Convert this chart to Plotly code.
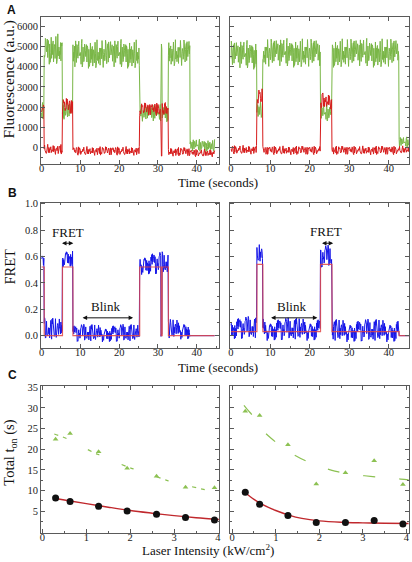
import numpy as np
import plotly.graph_objects as go
from plotly.subplots import make_subplots

# ---------------- data ----------------
# hand-typed noise texture (unitless, -1..1)
JITTER = [0.12,-0.45,0.78,-0.2,0.33,-0.91,0.05,0.6,-0.38,0.22,-0.7,0.48,-0.05,0.85,-0.55,0.1,-0.28,0.67,-0.82,0.3,
          -0.12,0.52,-0.64,0.18,0.95,-0.33,0.07,-0.58,0.41,-0.15,0.73,-0.88,0.26,-0.47,0.61,0.02,-0.36,0.8,-0.69,0.14,
          -0.25,0.57,-0.97,0.38,-0.08,0.44,-0.61,0.9,-0.18,0.29,-0.76,0.5,-0.42,0.11,0.68,-0.3,-0.85,0.35,0.2,-0.53,
          0.76,-0.1,0.47,-0.72,0.16,0.59,-0.4,0.04,-0.66,0.83,-0.22,0.37,-0.5,0.64,-0.93,0.24,-0.14,0.71,-0.34,0.09,
          0.55,-0.79,0.42,-0.03,-0.6,0.87,-0.27,0.19,-0.45,0.66,-0.11,0.31,-0.74,0.5,-0.19,0.92,-0.56,0.08,-0.37,0.62,-0.87]

# left molecule: segment boundaries (s) and per-segment levels / noise half-ranges
L_BOUNDS = [0, 0.7, 5.4, 8.1, 25.3, 30.8, 31.1, 32.7, 38.3, 44.6]
L_GREEN = [1800, 4900, 1800, 4650, 1700, 5000, 1700, 4700, 100]
L_GREEN_AMP = [450, 800, 450, 750, 450, 300, 450, 700, 320]
L_RED = [2000, -100, 2050, -180, 1900, -450, 1900, -220, -280]
L_RED_AMP = [320, 260, 420, 230, 340, 150, 340, 230, 200]
L_FRET = [0.55, 0.05, 0.6, 0.02, 0.55, 0.0, 0.55, 0.05, 0.0]
L_FRET_AMP = [0.06, 0.09, 0.08, 0.07, 0.09, 0.02, 0.09, 0.08, 0.0]
L_IDEAL = [0.52, 0.0, 0.52, 0.0, 0.52, 0.0, 0.52, 0.0, 0.0]

# right molecule
R_BOUNDS = [0, 6.6, 8.1, 22.7, 25.6, 42.6, 45.2]
R_GREEN = [4600, 1900, 4700, 1700, 4700, 250]
R_GREEN_AMP = [750, 450, 750, 450, 750, 280]
R_RED = [-120, 2500, -150, 2300, -150, -120]
R_RED_AMP = [230, 450, 230, 420, 230, 200]
R_FRET = [0.06, 0.62, 0.05, 0.6, 0.04, 0.0]
R_FRET_AMP = [0.09, 0.08, 0.09, 0.09, 0.09, 0.0]
R_IDEAL = [0.03, 0.54, 0.03, 0.54, 0.03, 0.0]

# panel C
INTENSITY = [0.3, 0.63, 1.28, 1.93, 2.6, 3.26, 3.92]
L_TON = [8.2, 7.4, 6.2, 5.1, 4.3, 3.5, 2.9]
L_GREEN_TON = [22.4, 23.8, 19.4, 15.4, 13.5, 10.8, 10.7]
R_TON = [9.6, 6.7, 4.0, 2.3, 2.3, 2.8, 1.95]
R_GREEN_TON = [29.2, 28.2, 21.1, 11.6, 14.3, 17.2, 11.5]
L_FIT_X = [0.3, 0.6, 1.0, 1.5, 2.0, 2.5, 3.0, 3.5, 4.05]
L_FIT_Y = [8.1, 7.55, 6.85, 6.0, 5.2, 4.55, 3.95, 3.45, 3.0]
R_FIT_X = [0.3, 0.5, 0.7, 1.0, 1.3, 1.6, 2.0, 2.5, 3.0, 3.5, 4.05]
R_FIT_Y = [9.5, 7.9, 6.6, 5.2, 4.1, 3.3, 2.7, 2.35, 2.2, 2.1, 2.05]
L_GFIT_X = [0.27, 0.55, 1.15, 1.35, 1.95, 2.15, 2.75, 2.95, 3.55, 3.8, 4.05]
L_GFIT_Y = [23.7, 22.6, 19.3, 18.4, 15.7, 15.0, 12.8, 12.1, 10.6, 10.0, 9.6]
R_GFIT_X = [0.27, 0.35, 0.54, 0.65, 0.9, 1.12, 1.4, 1.9, 2.2, 2.58, 3.04, 3.53, 3.87, 4.05]
R_GFIT_Y = [30.6, 29.6, 27.2, 25.2, 22.6, 20.8, 18.8, 16.2, 15.2, 14.2, 13.6, 13.1, 12.8, 12.6]

DT = 0.1


def build(bounds, levels, amps, stride, offset):
    t = np.arange(0, bounds[-1] + DT / 2, DT)
    y = []
    n = len(JITTER)
    for k, tt in enumerate(t):
        s = min(np.searchsorted(bounds, tt, side='right') - 1, len(levels) - 1)
        y.append(levels[s] + amps[s] * JITTER[(k * stride + offset) % n])
    return t, np.array(y)


def ideal(bounds, levels):
    xs, ys = [], []
    for i, lv in enumerate(levels):
        xs += [bounds[i], bounds[i + 1]]
        ys += [lv, lv]
    return xs, ys


GREEN = '#79b646'
RED = '#d61c1c'
BLUE = '#1616e8'

fig = make_subplots(rows=3, cols=2)

for col, (B, G, GA, R, RA, F, FA, I, off) in enumerate([
        (L_BOUNDS, L_GREEN, L_GREEN_AMP, L_RED, L_RED_AMP, L_FRET, L_FRET_AMP, L_IDEAL, 0),
        (R_BOUNDS, R_GREEN, R_GREEN_AMP, R_RED, R_RED_AMP, R_FRET, R_FRET_AMP, R_IDEAL, 37)], start=1):
    tg, yg = build(B, G, GA, 7, 3 + off)
    tr, yr = build(B, R, RA, 11, 50 + off)
    tf, yf = build(B, F, FA, 13, 21 + off)
    xi, yi = ideal(B, I)
    fig.add_trace(go.Scatter(x=tg, y=yg, mode='lines', line=dict(color=GREEN, width=1)), row=1, col=col)
    fig.add_trace(go.Scatter(x=tr, y=yr, mode='lines', line=dict(color=RED, width=1)), row=1, col=col)
    fig.add_trace(go.Scatter(x=tf, y=yf, mode='lines', line=dict(color=BLUE, width=1)), row=2, col=col)
    fig.add_trace(go.Scatter(x=xi, y=yi, mode='lines', line=dict(color='rgba(225,70,70,0.85)', width=1.2)), row=2, col=col)

for col, (FX, FY, GX, GY, TON, GTON, dash) in enumerate([
        (L_FIT_X, L_FIT_Y, L_GFIT_X, L_GFIT_Y, L_TON, L_GREEN_TON, '4px,5px,4px,24px'),
        (R_FIT_X, R_FIT_Y, R_GFIT_X, R_GFIT_Y, R_TON, R_GREEN_TON, '12px,24px')], start=1):
    fig.add_trace(go.Scatter(x=GX, y=GY, mode='lines', line=dict(color='#8cc152', width=1.2, dash=dash, shape='spline')), row=3, col=col)
    fig.add_trace(go.Scatter(x=INTENSITY, y=GTON, mode='markers',
                             marker=dict(symbol='triangle-up', size=5, color='#8cc152')), row=3, col=col)
    fig.add_trace(go.Scatter(x=FX, y=FY, mode='lines', line=dict(color='#c0282d', width=1.4, shape='spline')), row=3, col=col)
    fig.add_trace(go.Scatter(x=INTENSITY, y=TON, mode='markers',
                             marker=dict(symbol='circle', size=7, color='#111111')), row=3, col=col)

W, H = 412, 562
def px(a, b):
    return [a / W, b / W]
def py(top, bottom):
    return [1 - bottom / H, 1 - top / H]

SERIF = 'Liberation Serif, Times New Roman, Times, serif'

axis_common = dict(showline=True, linecolor='#5a5a5a', linewidth=1, mirror='ticks', ticks='inside',
                   ticklen=4, tickcolor='#5a5a5a', showgrid=False, zeroline=False,
                   tickfont=dict(family=SERIF, size=10.5, color='#222'))

xdom = {1: px(39.5, 219), 2: px(230.7, 411)}
ydom = {1: py(12.7, 161), 2: py(200, 346), 3: py(385, 532.5)}
xranges = {1: {1: [-0.1, 45.7], 2: [-0.1, 45.1]}, 2: {1: [-0.1, 45.7], 2: [-0.1, 45.1]},
           3: {1: [-0.03, 4.02], 2: [-0.04, 4.06]}}
yranges = {1: [-824, 6493], 2: [-0.09, 1.008], 3: [-0.17, 35.24]}
xt = {1: dict(tickvals=[0, 10, 20, 30, 40], minor_dtick=5), 2: dict(tickvals=[0, 10, 20, 30, 40], minor_dtick=5),
      3: dict(tickvals=[0, 1, 2, 3, 4], minor_dtick=0.5)}
yt = {1: dict(tickvals=[0, 1000, 2000, 3000, 4000, 5000, 6000], minor_dtick=500),
      2: dict(tickvals=[0, 0.2, 0.4, 0.6, 0.8, 1.0], ticktext=['0.0', '0.2', '0.4', '0.6', '0.8', '1.0'], minor_dtick=0.1),
      3: dict(tickvals=[5, 10, 15, 20, 25, 30, 35], minor_dtick=2.5)}

for r in (1, 2, 3):
    for c in (1, 2):
        idx = (r - 1) * 2 + c
        sfx = '' if idx == 1 else str(idx)
        xa = dict(axis_common)
        xa.update(domain=xdom[c], range=xranges[r][c], tickvals=xt[r]['tickvals'], anchor='y' + sfx,
                  ticklabelstandoff=-5,
                  minor=dict(ticks='inside', ticklen=2, tickcolor='#5a5a5a', dtick=xt[r]['minor_dtick']))
        ya = dict(axis_common)
        ya.update(domain=ydom[r], range=yranges[r], tickvals=yt[r]['tickvals'], anchor='x' + sfx,
                  minor=dict(ticks='inside', ticklen=2, tickcolor='#5a5a5a', dtick=yt[r]['minor_dtick']))
        if 'ticktext' in yt[r]:
            ya['ticktext'] = yt[r]['ticktext']
        if c == 2:
            ya['showticklabels'] = False
        fig.layout['xaxis' + sfx] = xa
        fig.layout['yaxis' + sfx] = ya

ann = []
def paper_text(text, x, y, size, angle=0, family=SERIF, color='#111'):
    ann.append(dict(text=text, x=x / W, y=1 - y / H, xref='paper', yref='paper', showarrow=False,
                    xanchor='center', yanchor='middle', textangle=angle,
                    font=dict(family=family, size=size, color=color)))

paper_text('<b>A</b>', 10, 6, 12, family='Liberation Sans, Arial, sans-serif')
paper_text('<b>B</b>', 10.5, 190, 12, family='Liberation Sans, Arial, sans-serif')
paper_text('<b>C</b>', 11, 373.5, 12, family='Liberation Sans, Arial, sans-serif')
paper_text('Time (seconds)', 218, 180, 13)
paper_text('Time (seconds)', 218, 366, 13)
paper_text('Laser Intensity (kW/cm<sup>2</sup>)', 208, 550, 13)
paper_text('Fluorescence (a.u.)', 8, 76, 15.5, angle=-90)
paper_text('FRET', 8, 264.5, 14.5, angle=-90)
paper_text('Total t<sub>on</sub> (s)', 8, 452, 14.5, angle=-90)

def arrow(xa, ya, x0, x1, y):
    ann.append(dict(x=x1, y=y, ax=x0, ay=y, xref=xa, yref=ya, axref=xa, ayref=ya, text='',
                    showarrow=True, arrowhead=2, arrowside='end+start', arrowsize=0.9, arrowwidth=1,
                    arrowcolor='#111'))

def data_text(xa, ya, text, x, y):
    ann.append(dict(x=x, y=y, xref=xa, yref=ya, text=text, showarrow=False, xanchor='center',
                    yanchor='middle', font=dict(family=SERIF, size=13, color='#111')))

data_text('x3', 'y3', 'FRET', 6.8, 0.78)
arrow('x3', 'y3', 4.9, 8.2, 0.70)
data_text('x3', 'y3', 'Blink', 16.6, 0.22)
arrow('x3', 'y3', 10.2, 23.6, 0.135)
data_text('x4', 'y4', 'FRET', 24.0, 0.79)
arrow('x4', 'y4', 22.7, 25.9, 0.70)
data_text('x4', 'y4', 'Blink', 15.4, 0.22)
arrow('x4', 'y4', 9.8, 21.9, 0.135)

fig.update_layout(width=W, height=H, margin=dict(l=0, r=0, t=0, b=0), showlegend=False,
                  plot_bgcolor='white', paper_bgcolor='white', annotations=ann)

fig.write_html('out.html', config={'displayModeBar': False},
               post_script="document.body.style.margin='0px';document.body.style.padding='0px';")
